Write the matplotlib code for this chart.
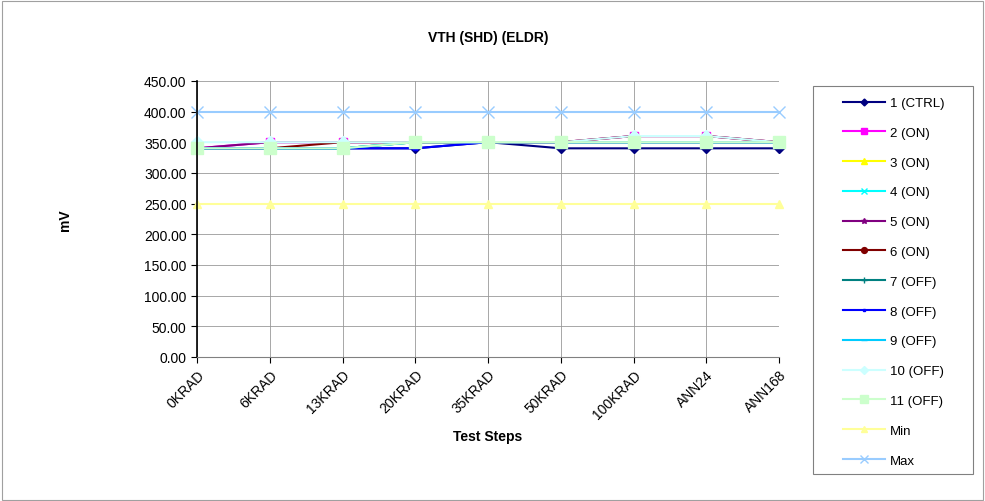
import matplotlib
matplotlib.use('Agg')
import matplotlib.pyplot as plt
from matplotlib.patches import Rectangle

plt.rcParams['font.family'] = ['Liberation Sans', 'DejaVu Sans']

steps = ['0KRAD', '6KRAD', '13KRAD', '20KRAD', '35KRAD', '50KRAD', '100KRAD', 'ANN24', 'ANN168']
names = ['1 (CTRL)', '2 (ON)', '3 (ON)', '4 (ON)', '5 (ON)', '6 (ON)',
         '7 (OFF)', '8 (OFF)', '9 (OFF)', '10 (OFF)', '11 (OFF)', 'Min', 'Max']

s1 = [340, 340, 340, 340, 350, 340, 340, 340, 340]
s2 = [340, 350, 350, 350, 350, 350, 360, 360, 350]
s3 = [340, 340, 340, 350, 350, 350, 350, 350, 350]
s4 = [340, 340, 340, 350, 350, 350, 350, 350, 350]
s5 = [340, 350, 350, 350, 350, 350, 360, 360, 350]
s6 = [340, 340, 350, 350, 350, 350, 360, 360, 350]
s7 = [340, 340, 340, 350, 350, 350, 350, 350, 350]
s8 = [340, 340, 340, 340, 350, 350, 350, 350, 350]
s9 = [340, 340, 340, 350, 350, 350, 350, 350, 350]
s10 = [350, 350, 350, 350, 350, 350, 360, 360, 350]
s11 = [340, 340, 340, 350, 350, 350, 350, 350, 350]
vmin = [250] * 9
vmax = [400] * 9
series = [s1, s2, s3, s4, s5, s6, s7, s8, s9, s10, s11, vmin, vmax]

colors = ['#000080', '#FF00FF', '#FFFF00', '#00FFFF', '#800080', '#800000',
          '#008080', '#0000FF', '#00CCFF', '#CCFFFF', '#CCFFCC', '#FFFF99', '#99CCFF']
markers = ['D', 's', '^', 'x', '*', 'o', '+', 's', '_', 'D', 's', '^', 'x']
msizes = [5, 6, 6, 6, 6, 6, 6, 3, 7, 6, 9, 6, 8]

fig = plt.figure(figsize=(9.85, 5.02), dpi=100)
# outer chart border
fig.patches.append(Rectangle((0.002, 0.002), 0.996, 0.994, transform=fig.transFigure,
                             fill=False, edgecolor='#a0a0a0', linewidth=0.8))
ax = fig.add_axes([0.2, 0.287, 0.591, 0.55])

x = list(range(len(steps)))
handles = []
for vals, name, c, m, ms in zip(series, names, colors, markers, msizes):
    h, = ax.plot(x, vals, color=c, marker=m, markersize=ms, linewidth=1.5,
                 markeredgecolor=c, label=name, clip_on=False)
    handles.append(h)

ax.set_xlim(0, len(steps) - 1)
ax.set_ylim(0, 450)
ax.set_yticks(range(0, 451, 50))
ax.set_yticklabels(['%.2f' % v for v in range(0, 451, 50)], fontsize=10)
ax.set_xticks(x)
ax.set_xticklabels(steps, rotation=45, ha='right', rotation_mode='anchor', fontsize=10)
ax.grid(True, color='#999999', linewidth=0.6)
ax.set_axisbelow(True)
for side in ['top', 'right']:
    ax.spines[side].set_visible(False)
ax.spines['left'].set_linewidth(1.2)
ax.spines['bottom'].set_color('#808080')
ax.tick_params(axis='both', length=4, direction='out')

ax.set_title('VTH (SHD) (ELDR)', fontsize=10, fontweight='bold', pad=29)
ax.set_ylabel('mV', fontsize=10, fontweight='bold', labelpad=52)
ax.set_xlabel('Test Steps', fontsize=10, fontweight='bold', labelpad=6)

# legend box drawn separately so the padding matches
fig.patches.append(Rectangle((0.8254, 0.0538), 0.1624, 0.773, transform=fig.transFigure,
                             fill=False, edgecolor='#808080', linewidth=0.8))
leg = fig.legend(handles=handles, loc='upper left', bbox_to_anchor=(0.856, 0.805),
                 fontsize=9.5, frameon=False, markerscale=0.7,
                 handlelength=3.2, labelspacing=1.33, borderpad=0, handletextpad=0.35,
                 borderaxespad=0)

fig.savefig('out.png', dpi=100)
